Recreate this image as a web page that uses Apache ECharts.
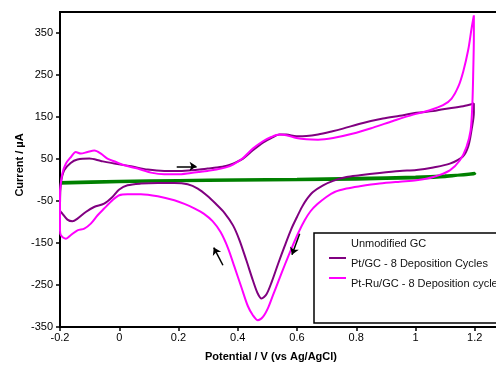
<!DOCTYPE html>
<html>
<head>
<meta charset="utf-8">
<script src="https://cdn.jsdelivr.net/npm/echarts@6/dist/echarts.min.js"></script>
<style>html,body{margin:0;padding:0;background:#fff}#c{width:496px;height:371px}</style>
</head>
<body>
<div id="c"></div>
<script>
// ---- data (potential V, current µA) ----
const seriesNames = ['Unmodified GC', 'Pt/GC - 8 Deposition Cycles', 'Pt-Ru/GC - 8 Deposition cycles'];

const yTickValues = [-350, -250, -150, -50, 50, 150, 250, 350];

const unmodifiedGC = [
  [-0.2,-8],[0,-4],[0.2,-2],[0.4,-0.5],[0.6,0.5],[0.8,2],[1.0,5],[1.1,8],[1.2,16],
  [1.2,14],[1.1,10],[1.0,7],[0.8,4],[0.6,2],[0.4,0.5],[0.2,-1],[0,-3],[-0.2,-6]
];

const ptGC = [
  [-0.2,-60],[-0.197,-8.5],[-0.186,23],[-0.164,40.5],[-0.141,48.6],[-0.101,51],[-0.062,45.3],
  [-0.017,39.1],[0.039,32.7],[0.096,24.8],[0.152,21.5],[0.197,21.5],[0.242,23.1],[0.271,24.8],
  [0.298,27.2],[0.328,29.6],[0.36,33.4],[0.384,39.1],[0.418,51],[0.451,70.8],[0.485,89.1],
  [0.513,100],[0.541,108.1],[0.564,108.1],[0.598,104.1],[0.632,104.5],[0.671,108.1],[0.72,116],
  [0.755,122.4],[0.823,135.8],[0.89,146.2],[0.947,153],[1.003,160],[1.06,164],[1.093,168.4],
  [1.161,175.5],[1.197,182],
  [1.197,160],[1.189,118.4],[1.178,80],[1.16,56],[1.116,39],[1.06,30],[1.003,24],[0.947,21.5],
  [0.879,16.7],[0.812,11.2],[0.767,7.2],[0.722,-2],[0.688,-12.6],[0.654,-28.5],[0.632,-46.6],
  [0.617,-64],[0.6,-88],[0.58,-118],[0.558,-158],[0.536,-200],[0.515,-242],[0.497,-272],
  [0.48,-282.4],[0.466,-268],[0.451,-238.8],[0.429,-191.2],[0.406,-143.5],[0.384,-108],
  [0.355,-78],[0.325,-56],[0.298,-38],[0.265,-20.4],[0.231,-10.2],[0.186,-7.1],[0.13,-7.1],
  [0.073,-8.5],[0.028,-12.6],[0.0,-22.8],[-0.023,-40.4],[-0.051,-56.2],[-0.085,-64.3],
  [-0.113,-76.2],[-0.141,-91.9],[-0.158,-98.3],[-0.175,-94.3],[-0.192,-80],[-0.2,-72],[-0.2,-60]
];

const ptRuGC = [
  [-0.2,-24.5],[-0.192,15.3],[-0.18,39.1],[-0.163,54.8],[-0.147,66.7],[-0.13,62.9],[-0.107,66.7],
  [-0.084,70],[-0.062,62.9],[-0.04,51],[-0.011,42.9],[0.017,35],[0.062,27.2],[0.107,17.6],
  [0.152,13.6],[0.197,13.6],[0.242,16.7],[0.271,19.1],[0.298,21.5],[0.328,24.8],[0.36,30],
  [0.384,36.7],[0.418,52.4],[0.451,74.8],[0.485,92.2],[0.513,102.4],[0.541,108.1],[0.564,106.5],
  [0.598,100],[0.632,96.8],[0.671,96],[0.722,100],[0.79,110.5],[0.857,124.8],[0.924,140.5],
  [0.992,155.7],[1.048,166],[1.093,178],[1.122,194],[1.144,221.5],[1.161,258],[1.178,310],
  [1.189,360],[1.197,392],
  [1.197,340],[1.195,261],[1.192,182],[1.186,118],[1.172,78.6],[1.15,47],[1.116,23.1],[1.06,7.2],
  [1.003,-0.7],[0.947,-4],[0.879,-8.5],[0.812,-15],[0.767,-20.4],[0.727,-28.5],[0.699,-40.4],
  [0.668,-58],[0.645,-75],[0.626,-96],[0.605,-125],[0.582,-162],[0.56,-200],[0.539,-238],
  [0.519,-274],[0.502,-305],[0.485,-326],[0.468,-334],[0.451,-322],[0.434,-300],[0.412,-254.7],
  [0.389,-207],[0.367,-162],[0.342,-124],[0.315,-98],[0.285,-80],[0.255,-68],[0.22,-57],[0.186,-48.3],
  [0.13,-38.8],[0.073,-34],[0.028,-34],[0.0,-36.4],[-0.023,-48.3],[-0.051,-68],[-0.073,-84],
  [-0.096,-103.8],[-0.118,-115.7],[-0.141,-119.7],[-0.164,-131.6],[-0.18,-139.6],[-0.197,-131.6],
  [-0.2,-119.7],[-0.2,-24.5]
];

// sweep direction arrows [from, to]
const arrows = [
  [[0.194,32.6],[0.261,32.6]],
  [[0.35,-203],[0.319,-161]],
  [[0.609,-128],[0.583,-178]]
];

const xTitle = 'Potential / V (vs Ag/AgCl)';
const yTitle = 'Current / µA';

// ---- chart ----
const FONT = 'Liberation Sans, Arial, sans-serif';
const chart = echarts.init(document.getElementById('c'), null, {renderer:'canvas'});
const barIcon = 'path://M0,0L17,0L17,2L0,2Z M0,13.95L0.05,13.95L0.05,14L0,14Z';

chart.setOption({
  animation: false,
  backgroundColor: '#fff',
  grid: {left: 60, top: 12, width: 474, height: 315, outerBoundsMode: 'none', containLabel: false,
         show: true, borderColor: '#000', borderWidth: 2},
  xAxis: {
    type: 'value', min: -0.2, max: 1.4, interval: 0.2,
    axisLine: {onZero: false, lineStyle: {color: '#000', width: 2}},
    axisTick: {inside: false, length: 4, lineStyle: {color: '#000', width: 1.5}},
    axisLabel: {color: '#000', fontSize: 11, fontFamily: FONT, margin: 5},
    splitLine: {show: false}
  },
  yAxis: {
    type: 'value', min: -350, max: 400, interval: 100,
    axisLine: {onZero: false, lineStyle: {color: '#000', width: 2}},
    axisTick: {inside: false, length: 4, customValues: yTickValues, lineStyle: {color: '#000', width: 1.5}},
    axisLabel: {color: '#000', fontSize: 11, fontFamily: FONT, margin: 7, customValues: yTickValues,
      formatter: v => (v > 350 ? '' : String(v))},
    splitLine: {show: false}
  },
  legend: {
    orient: 'vertical', left: 314, top: 233,
    padding: [4, 40, 32, 15], itemGap: 6, itemWidth: 17, itemHeight: 14,
    borderColor: '#000', borderWidth: 1.5, backgroundColor: '#fff',
    selectedMode: false, icon: barIcon,
    textStyle: {fontSize: 11, color: '#111', fontFamily: FONT},
    data: [
      {name: seriesNames[0], itemStyle: {opacity: 0}},
      seriesNames[1], seriesNames[2]
    ]
  },
  graphic: [
    {type: 'text', x: 271, y: 357, silent: true,
     style: {text: xTitle, fontSize: 11, fontWeight: 'bold', fontFamily: FONT, fill: '#000', align: 'center', verticalAlign: 'middle'}},
    {type: 'text', x: 20, y: 165, rotation: Math.PI / 2, silent: true,
     style: {text: yTitle, fontSize: 11, fontWeight: 'bold', fontFamily: FONT, fill: '#000', align: 'center', verticalAlign: 'middle'}}
  ],
  series: [
    {name: seriesNames[0], type: 'line', data: unmodifiedGC, showSymbol: false, smooth: 0.2,
     color: '#008000', lineStyle: {width: 3, color: '#008000'}, clip: true,
     markLine: {silent: true, symbol: ['none', 'arrow'], symbolSize: 7,
       lineStyle: {color: '#000', width: 1.5, type: 'solid'}, label: {show: false},
       data: arrows.map(a => [{coord: a[0]}, {coord: a[1]}])}},
    {name: seriesNames[1], type: 'line', data: ptGC, showSymbol: false, smooth: 0.3,
     color: '#800080', lineStyle: {width: 2, color: '#800080'}, clip: true},
    {name: seriesNames[2], type: 'line', data: ptRuGC, showSymbol: false, smooth: 0.3,
     color: '#ff00ff', lineStyle: {width: 2, color: '#ff00ff'}, clip: true}
  ]
});
</script>
</body>
</html>
